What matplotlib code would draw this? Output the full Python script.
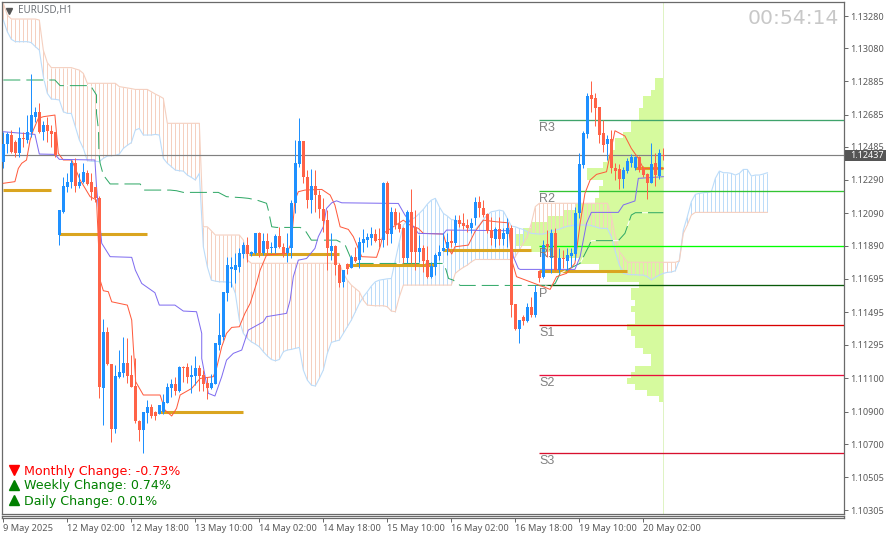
import numpy as np
import matplotlib
matplotlib.use('Agg')
import matplotlib.pyplot as plt

# all prices are in points above 1.10000, bar index on x
opens = [2399,2506,2560,2520,2453,2542,2530,2580,2671,2701,
2580,2621,2584,2576,1955,2094,2243,2278,2389,2251,
2278,2328,2278,2243,2181,1031,1370,1174,781,1098,
1122,1178,1108,1041,831,775,880,912,886,872,
886,940,1027,1053,1013,1158,1154,1098,1102,1148,
1106,1061,1027,1053,1289,1340,1606,1747,1743,1763,
1840,1894,1840,1844,1969,1844,1921,1874,1874,1951,
1880,1844,1874,2146,2384,2523,2308,2166,2251,2197,
2112,2045,1860,1888,1773,1668,1779,1757,1820,1803,
1904,1924,1934,1961,1928,1924,2267,1961,2096,2019,
1995,1813,2096,2001,1850,1878,1803,1700,1763,1828,
1858,1874,1918,1908,2045,2029,2015,1995,2055,2156,
2116,2082,1985,1930,1991,1930,1959,1995,1535,1388,
1457,1437,1517,1471,1739,1699,1901,1814,1969,1743,
1814,1798,1828,1838,2090,2377,2566,2802,2782,2732,
2570,2506,2538,2363,2354,2292,2344,2389,2358,2425,
2358,2322,2272,2389,2312,2441]
closes = [2506,2564,2459,2453,2540,2537,2580,2681,2701,2576,
2621,2586,2566,2439,2106,2251,2278,2389,2251,2278,
2334,2264,2217,2177,1037,1370,1174,781,1102,1126,
1178,1102,1037,829,775,882,912,860,860,926,
946,1037,1053,1013,1158,1148,1094,1108,1148,1102,
1053,1027,1057,1299,1350,1610,1773,1763,1773,1844,
1894,1840,1854,1969,1844,1921,1868,1884,1951,1880,
1844,1874,2146,2388,2523,2308,2166,2251,2197,2112,
2041,1874,1888,1773,1666,1743,1749,1824,1799,1910,
1928,1941,1961,1920,1924,2271,1961,2096,2015,1991,
1813,2096,1854,1854,1874,1799,1703,1767,1834,1854,
1878,1914,1908,2045,2021,2011,1995,2029,2156,2116,
2076,1981,1934,1991,1930,1965,1999,1531,1388,1441,
1437,1517,1471,1612,1693,1895,1880,1965,1743,1814,
1808,1834,1848,2090,2385,2570,2796,2776,2722,2560,
2500,2536,2358,2342,2292,2348,2403,2429,2425,2348,
2318,2272,2385,2318,2449,2435]
highs = [2580,2580,2590,2530,2611,2580,2681,2927,2732,2752,
2647,2671,2621,2580,2106,2308,2328,2409,2419,2328,
2389,2348,2328,2247,2190,1444,1400,1174,1168,1259,
1340,1330,1229,1208,835,886,956,932,892,926,
993,1061,1081,1098,1162,1160,1182,1168,1223,1168,
1138,1098,1114,1303,1481,1612,1824,1824,1844,1874,
1915,1941,1860,1969,1972,1969,1965,1915,1961,2001,
1909,1965,2167,2529,2663,2525,2348,2352,2348,2227,
2177,2106,1965,1894,1783,1743,1783,1834,1884,1945,
1989,1965,2005,1989,1995,2277,2283,2122,2116,2096,
2005,2106,2231,2106,1955,1894,1888,1793,1844,1894,
1965,1965,1985,2076,2076,2086,2049,2055,2187,2191,
2166,2086,2062,2005,2066,1995,2056,2016,1540,1441,
1471,1542,1578,1653,1739,1925,1985,1989,1995,1874,
1864,1874,1874,2127,2449,2586,2812,2889,2812,2732,
2651,2560,2590,2389,2385,2365,2419,2445,2433,2433,
2373,2332,2514,2449,2473,2480]
lows = [2362,2449,2449,2429,2429,2490,2510,2550,2641,2570,
2530,2520,2490,2429,1895,2086,2217,2237,2217,2237,
2268,2258,2167,2157,966,805,1168,704,755,1087,
1094,1057,1033,819,710,638,815,845,835,872,
872,936,977,985,1007,1067,1057,1001,1047,1013,
1013,960,1021,1053,1259,1319,1557,1638,1666,1730,
1814,1794,1830,1840,1824,1834,1834,1844,1844,1874,
1824,1794,1814,2086,2368,2267,2116,2090,2096,2056,
1975,1743,1803,1713,1642,1638,1719,1753,1793,1753,
1854,1880,1894,1914,1884,1884,1894,1908,1991,1975,
1783,1783,1783,1743,1793,1733,1692,1692,1713,1803,
1858,1834,1884,1894,2005,1989,1975,1965,2015,2062,
2062,1965,1894,1884,1894,1894,1884,1461,1380,1300,
1410,1431,1461,1461,1673,1693,1824,1723,1739,1723,
1753,1743,1763,1804,2056,2358,2540,2701,2615,2510,
2459,2409,2328,2288,2231,2237,2328,2369,2348,2338,
2308,2171,2268,2252,2292,2409]

senkou_a = [3256,3185,3139,3125,3125,3125,3125,3119,3095,3074,
2913,2812,2778,2776,2772,2701,2691,2691,2611,2530,
2479,2405,2401,2401,2399,2419,2433,2435,2437,2445,
2479,2498,2514,2590,2600,2560,2560,2560,2564,2560,
2419,2389,2369,2348,2344,2342,2318,2304,2288,2328,
1884,1763,1682,1676,1672,1672,1670,1668,1602,1440,
1360,1330,1309,1295,1279,1249,1223,1202,1194,1202,
1249,1259,1263,1269,1275,1138,1077,1047,1041,1087,
1138,1239,1305,1313,1319,1360,1400,1440,1491,1541,
1581,1612,1646,1672,1682,1686,1690,1692,1803,1914,
2015,2041,2049,2062,2086,2110,2142,2166,2177,2126,
2086,2070,2049,2045,2035,2019,2001,1985,1989,2015,
2049,2076,2096,2100,2106,2100,2056,2009,2005,1995,
1989,1975,1965,1963,1961,1961,1969,1979,1985,1991,
2000,2008,2012,2016,2016,2016,2016,2012,2005,1997,
1995,1995,1945,1854,1774,1723,1717,1715,1715,1713,
1713,1703,1683,1699,1713,1723,1729,1731,1739,1804,
1985,2066,2157,2201,2207,2211,2213,2217,2298,2342,
2332,2332,2328,2318,2328,2352,2352,2312,2318,2318,
2324,2332]
senkou_b = [3357,3286,3262,3262,3262,3262,3262,3262,3262,3256,
3074,2998,2968,2968,2968,2968,2968,2968,2960,2953,
2933,2873,2873,2873,2873,2873,2873,2873,2873,2853,
2849,2845,2841,2836,2836,2836,2836,2822,2808,2796,
2782,2631,2631,2631,2631,2631,2631,2631,2631,2631,
2005,2005,1981,1955,1955,1955,1955,1955,1955,1955,
1925,1804,1784,1784,1784,1784,1784,1784,1784,1784,
1784,1784,1784,1784,1784,1784,1784,1784,1784,1784,
1784,1784,1784,1784,1784,1723,1682,1652,1632,1612,
1561,1531,1529,1527,1527,1527,1521,1495,1491,1581,
1652,1652,1652,1652,1652,1652,1652,1652,1652,1652,
1652,1652,1652,1723,1743,1759,1773,1793,1807,1807,
1807,1807,1807,1807,1807,1807,1807,1807,1824,1864,
1905,1945,2026,2127,2147,2147,2147,2147,2147,2147,
2147,2147,2147,2147,2147,2147,2147,2147,2147,2147,
2147,2147,2066,1945,1854,1824,1790,1790,1790,1790,
1790,1790,1790,1790,1790,1790,1790,1790,1790,1798,
1965,2016,2076,2092,2092,2092,2092,2092,2092,2092,
2092,2092,2092,2092,2092,2092,2092,2092,2092,2092,
2092,2092]

tenkan_x = [0,2.9,3.75,4.6,5.8,6.7,7.5,8.75,10,12.9,13.3,13.75,15,17.1,19.2,21.7,23.3,24.2,25,26.25,27.1,31,32.1,32.5,33.1,35,39.2,40.4,42.1,43.3,44.2,47.1,49.2,52.5,53.3,54.6,55.8,57.1,59,60.4,61.7,63.3,64.2,65.8,70.8,72,72.9,73.75,75.4,79.6,81.7,82.9,84.2,86.25,87.5,89.6,93.3,94.2,95,97.5,100,101.7,103.75,105,110,110.8,112.1,112.9,116.25,117.9,120,123.3,126.25,127.1,128.3,135,136.7,138.3,140.8,142.9,144.2,145.4,146.7,148.3,150.8,152.9,155.4,157,158.75,160,161.25,165]
tenkan_y = [2268,2278,2358,2389,2409,2530,2590,2661,2671,2681,2570,2449,2409,2409,2288,2187,2167,1682,1618,1612,1551,1531,1440,1279,1067,987,987,896,860,906,987,1027,1087,1098,1148,1279,1360,1396,1400,1481,1541,1662,1743,1834,1844,1905,2166,2217,2227,2231,2197,2136,2005,1989,1945,1824,1820,1884,1965,2005,2045,2015,1995,1965,1961,1894,1840,1884,1894,1975,2045,2035,2029,1803,1703,1642,1626,1703,1723,1784,2026,2207,2288,2322,2338,2586,2554,2479,2419,2358,2358,2358]
kijun_x = [0,7.9,9,12.9,14,22.9,23.3,23.75,24.6,26.7,32.1,33,34.6,37.9,39,42.9,45,48.3,49.6,49.6,51.25,52.9,54.6,55.8,57.5,59.6,61.25,65,65.8,70.8,71.7,72.5,73.75,75.8,77.9,78.75,80,80.8,82.1,83.3,84.6,98.75,100.4,103.75,110,110.8,126.7,127.5,128.75,129.2,142.9,144.2,145.8,147,153.75,155,157.9,158.75,165]
kijun_y = [2580,2564,2445,2443,2413,2409,2247,2126,1905,1824,1820,1743,1662,1606,1531,1531,1495,1491,1360,1208,997,981,1098,1198,1239,1259,1380,1430,1461,1481,1561,1703,1803,1813,1874,1945,2005,2116,2150,2162,2150,2146,2076,1965,1961,1985,1981,1824,1753,1747,1747,1824,2026,2092,2092,2137,2161,2298,2308]
signal_x = [0,10,12.9,14.2,21.8,23.3,23.3,23.8,23.9,24.2,25,26.7,34.2,35.2,41.7,43.3,45,53.75,55.8,59.6,61.25,63.3,65.8,66.25,67.1,68.3,72.5,74.2,75.4,77,83.3,85.4,86.7,87.5,98,110,110.7,111.3,112.5,114.2,135,136.7,138,139.2,144.2,146.3,147,153.75,155.4,157,158,165]
signal_y = [2893,2893,2893,2859,2859,2802,2691,2590,2449,2389,2318,2264,2264,2227,2227,2223,2213,2213,2187,2181,2177,2167,2147,2106,2005,2001,2001,2001,1985,1924,1924,1898,1824,1783,1783,1783,1743,1692,1682,1650,1650,1642,1663,1723,1784,1884,1921,1921,1965,2076,2090,2090]

# daily point of control: start bar, end bar, level
poc_start = [0,14,39,61.5,86,110,134,158]
poc_end = [12,36,60,84,108,132,156,165]
poc_level = [2227,1961,884,1840,1776,1864,1737,2361]

pivot_names = ['R3','R2','R1','P','S1','S2','S3']
pivot_levels = [2654,2224,1889,1650,1411,1111,639]
pivot_colors = ['#3fa36b','#33c433','#00ff00','#0a5a0a','#d80000','#e8103c','#d8102e']

profile_counts = [2,2,3,5,5,6,6,8,8,10,12,12,13,14,15,19,19,15,16,16,
17,22,25,29,33,35,37,37,33,28,21,16,14,14,6,8,8,7,8,7,
7,9,8,7,7,5,3,3,7,8,9,7,4,1]
profile_top = 2905
profile_bin = 36.3

last_price = 2439
price_ticks = [3280,3084,2884,2684,2488,2288,2088,1889,1689,1489,1290,1088,886,689,489,290]
price_labels = ['1.13280','1.13080','1.12885','1.12685','1.12485','1.12290','1.12090','1.11890',
                '1.11695','1.11495','1.11295','1.11100','1.10900','1.10700','1.10505','1.10305']
time_ticks = [0,16,32,48,64,80,96,112,128,144,160]
time_labels = ['9 May 2025','12 May 02:00','12 May 18:00','13 May 10:00','14 May 02:00','14 May 18:00',
               '15 May 10:00','16 May 02:00','16 May 18:00','19 May 10:00','20 May 02:00']
change_labels = ['Monthly Change: -0.73%','Weekly Change: 0.74%','Daily Change: 0.01%']
change_colors = ['#ff0000','#008000','#008000']
change_marks = ['v','^','^']

W, H = 889, 539
px = 0.72  # one pixel in points
BLUE = '#1e90ff'
RED = '#ff6347'
FRAME = '#6a6a6a'
TEXT = '#5a5a5a'
A_COL = '#bcdcf9'
B_COL = '#f5d0c0'
PROFILE = '#d6fa9e'

plt.rcParams['font.family'] = ['Noto Sans', 'DejaVu Sans']
fig = plt.figure(figsize=(W / 100, H / 100), dpi=100, facecolor='white')
ax = fig.add_axes([2 / W, 1 - 513.5 / H, 841.5 / W, 511.5 / H])
ax.set_xlim(-0.33, 210.04)
ax.set_ylim(270, 3365)

# profile histogram
k = np.arange(len(profile_counts))
ax.barh(profile_top - (k + 0.5) * profile_bin, profile_counts, height=profile_bin,
        left=165 - np.array(profile_counts), color=PROFILE, lw=0, zorder=1)
ax.axvline(165, color='#dff3c4', lw=px, zorder=1)

# cloud
a = np.array(senkou_a)
b = np.array(senkou_b)
cloud_x = np.arange(len(a))
ax.vlines(cloud_x[b >= a], a[b >= a], b[b >= a], color=B_COL, lw=px, zorder=2)
ax.vlines(cloud_x[a > b], b[a > b], a[a > b], color=A_COL, lw=px, zorder=2)
ax.plot(cloud_x, a, color=A_COL, lw=0.8, zorder=2)
ax.plot(cloud_x, b, color=B_COL, lw=0.8, zorder=2)

# pivots and their names
for name, lev, col in zip(pivot_names, pivot_levels, pivot_colors):
    ax.plot([134, 210.04], [lev, lev], color=col, lw=0.95, zorder=3, solid_capstyle='butt')
    ax.text(134, lev - 50, name, color='#808080', fontsize=9, va='center', ha='left', zorder=7,
            family='Liberation Sans')
ax.text(134, 3383, 'R4', color='#808080', fontsize=9, va='center', ha='left', zorder=7,
        family='Liberation Sans', clip_on=True)

ax.axhline(last_price, color='#808080', lw=0.85, zorder=3)

ax.hlines(poc_level, poc_start, poc_end, color='#daa520', lw=2.2, zorder=4)

line, = ax.plot(signal_x, signal_y, color='#2fa866', lw=px, zorder=5, ls=(0, (17, 6)))
line.set_gapcolor('white')
ax.plot(tenkan_x, tenkan_y, color='#ff5a3c', lw=px, zorder=5)
ax.plot(kijun_x, kijun_y, color='#7f6cf0', lw=px, zorder=5)

# candles
bars = np.arange(len(opens))
o, h, l, c = np.array(opens), np.array(highs), np.array(lows), np.array(closes)
up = c >= o
ax.vlines(bars[up], l[up], h[up], color=BLUE, lw=px, zorder=6)
ax.vlines(bars[~up], l[~up], h[~up], color=RED, lw=px, zorder=6)
ax.bar(bars[up], (c - o)[up], bottom=o[up], width=0.72, color=BLUE, lw=0, zorder=6)
ax.bar(bars[~up], (o - c)[~up], bottom=c[~up], width=0.72, color=RED, lw=0, zorder=6)

for s in ax.spines.values():
    s.set_color(FRAME)
    s.set_linewidth(0.9)
ax.yaxis.tick_right()
ax.set_yticks(price_ticks, price_labels)
ax.tick_params(axis='y', length=3, width=px, color=FRAME, labelcolor=TEXT, labelsize=6.5, pad=1.5)
ax.set_xticks([])

# empty strip under the chart carries the time axis
strip = fig.add_axes([2 / W, 1 - 518 / H, 841.5 / W, 2.5 / H])
strip.set_xlim(-0.33, 210.04)
strip.set_yticks([])
for s in strip.spines.values():
    s.set_color(FRAME)
    s.set_linewidth(0.9)
strip.set_xticks(time_ticks, time_labels, ha='left')
strip.tick_params(axis='x', length=3, width=px, color=FRAME, labelcolor=TEXT, labelsize=6.7, pad=1.5)

# text overlays placed by pixel
def ftext(x, y, s, **kw):
    fig.text(x / W, 1 - y / H, s, va='center', **kw)

ftext(18, 10, 'EURUSD,H1', color='#6f7378', fontsize=7.1)
fig.add_artist(plt.Line2D([9 / W], [1 - 11 / H], marker='v', ms=4.5, color='#555555', lw=0))
ftext(748, 18, '00:54:14', color='#c8c8c8', fontsize=14.7, family='DejaVu Sans')

for n, (lab, col, mk) in enumerate(zip(change_labels, change_colors, change_marks)):
    y = 471 + 15 * n
    ftext(24, y, lab, color=col, fontsize=9.1, family='DejaVu Sans')
    fig.add_artist(plt.Line2D([14 / W], [1 - (y - 1) / H], marker=mk, ms=6.5, color=col, lw=0))

# last price tag
fig.patches.append(plt.Rectangle((845 / W, 1 - 161 / H), 41 / W, 11 / H, transform=fig.transFigure,
                                 facecolor='#555555', edgecolor='none', figure=fig))
ftext(850, 155.5, '1.12437', color='white', fontsize=6.5)

fig.savefig('out.png', dpi=100)
